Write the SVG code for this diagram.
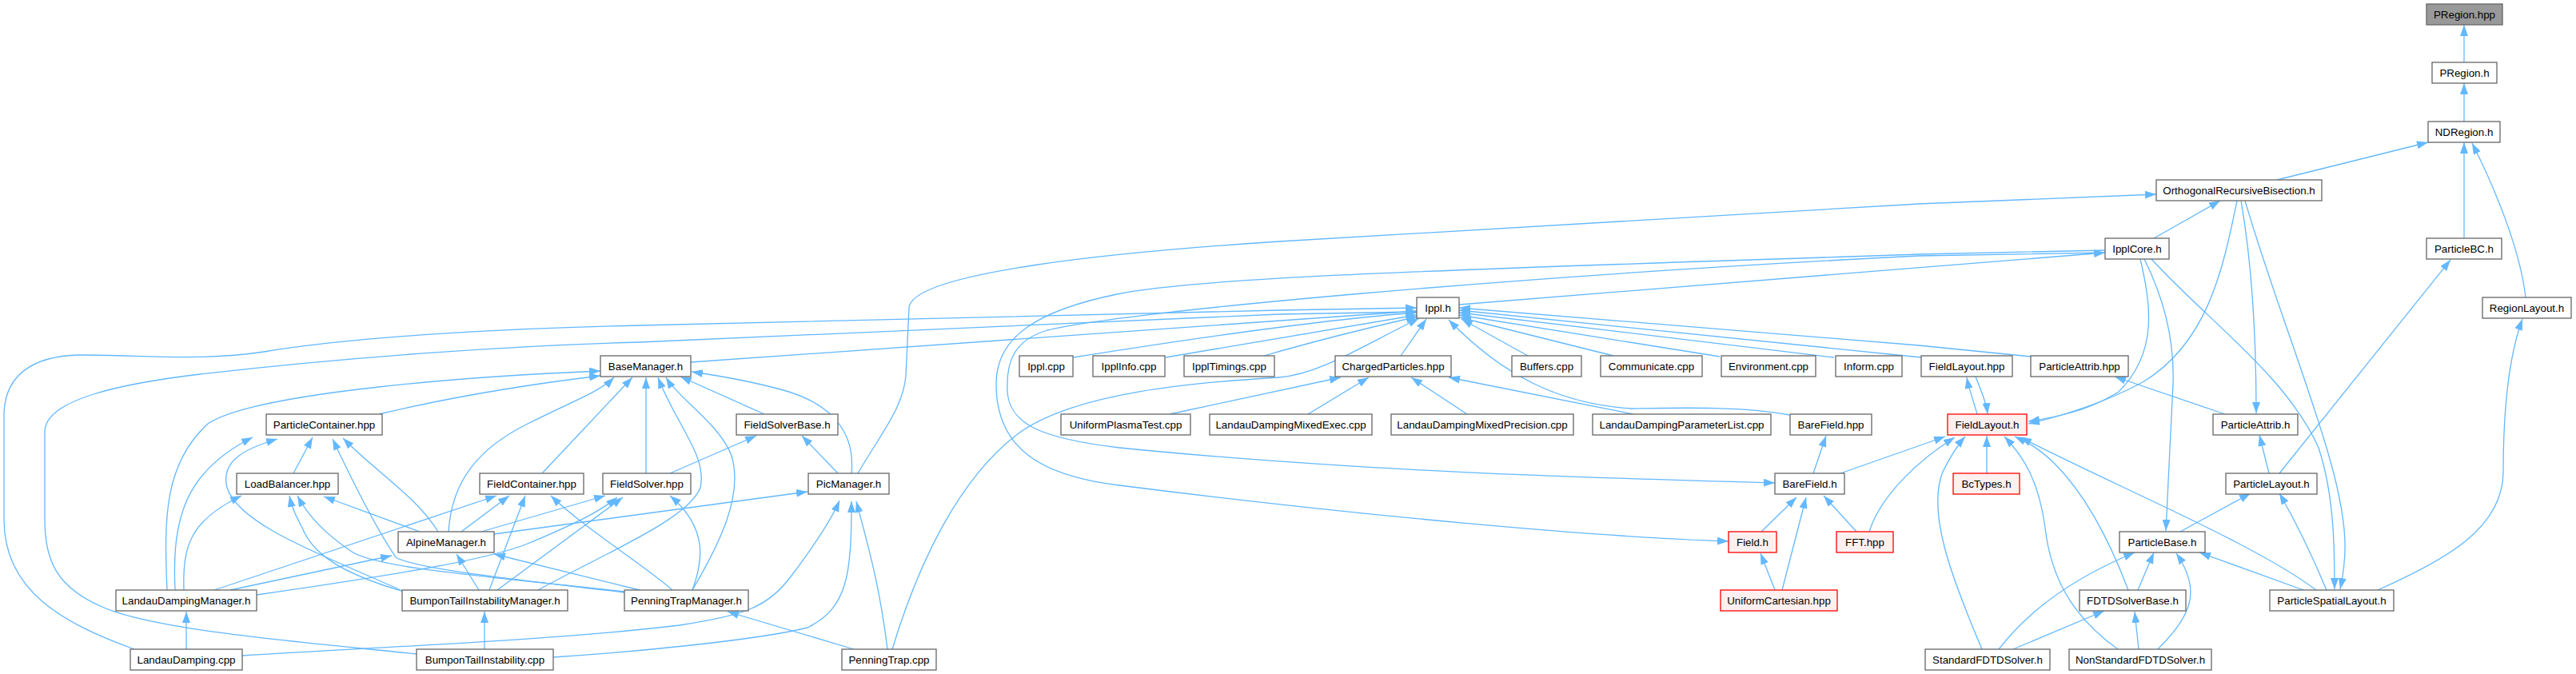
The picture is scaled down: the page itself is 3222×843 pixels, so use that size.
<svg xmlns="http://www.w3.org/2000/svg" width="3222" height="843" viewBox="0 0 3222 843">
<style>
.n rect{fill:#ffffff;stroke:#666666;stroke-width:1.3}
.r rect{fill:#fff0f0;stroke:#ff0000;stroke-width:1.3}
.g rect{fill:#999999;stroke:#666666;stroke-width:1.3}
text{font-family:"Liberation Sans",Arial,Helvetica,sans-serif;font-size:13.33px;fill:#000000;text-anchor:middle}
#edges path{fill:none;stroke:#63b8ff;stroke-width:1.3;marker-end:url(#ah)}
</style>
<defs>
<marker id="ah" viewBox="0 0 14 10" refX="14" refY="5" markerWidth="14" markerHeight="10" markerUnits="userSpaceOnUse" orient="auto"><path d="M0,0 L14,5 L0,10 z" fill="#63b8ff"/></marker>
</defs>
<rect x="0" y="0" width="3222" height="843" fill="#ffffff"/>
<g id="edges">
<path d="M3082,78 L3082,31"/>
<path d="M3082,152 L3082,104"/>
<path d="M2848,225 L3037,178"/>
<path d="M3082,298 L3082,178"/>
<path d="M3159,372 C3152,310 3118,230 3092,179"/>
<path d="M2694,298 L2777,251"/>
<path d="M1073,592 C1100,545 1130,510 1133,470 L1137,385 C1140,340 1400,315 1600,302 L2400,255 L2697,243"/>
<path d="M2851,592 L3065,325"/>
<path d="M2974,738 C3060,700 3131,660 3131,590 C3131,500 3140,440 3155,399"/>
<path d="M1825,381 L2633,316"/>
<path d="M2633,313 L2400,318 C1900,335 1500,345 1397,368 C1300,388 1246,420 1246,480 C1246,560 1300,595 1400,607 C1700,645 2000,672 2162,677"/>
<path d="M2633,316 L2400,320 C1900,345 1400,390 1310,413 C1270,425 1258,450 1260,490 C1263,530 1300,548 1400,560 C1700,590 2000,598 2220,604"/>
<path d="M864,453 L1772,389"/>
<path d="M168,812 C80,780 5,740 5,650 L5,520 C5,470 40,445 100,444 C180,444 250,452 330,440 C450,420 650,410 800,407 L1600,388 L1772,385"/>
<path d="M521,818 C400,805 200,790 130,760 C70,735 56,700 56,650 L56,540 C56,500 150,480 250,468 C450,445 650,432 800,428 L1600,393 L1772,390"/>
<path d="M1343,447 C1450,430 1650,400 1772,391"/>
<path d="M1458,447 L1772,394"/>
<path d="M1581,445 C1650,425 1720,408 1773,396"/>
<path d="M1116,812 C1150,700 1200,600 1270,545 C1340,490 1500,478 1600,472 C1650,468 1700,435 1775,398"/>
<path d="M1752,445 L1784,399"/>
<path d="M1911,445 L1828,399"/>
<path d="M2018,445 L1826,397"/>
<path d="M2151,446 L1825,394"/>
<path d="M2294,447 L1825,391"/>
<path d="M2403,447 L1825,388"/>
<path d="M2540,446 L2400,432 L1825,385"/>
<path d="M2238,519 C2180,508 2100,510 2040,511 C1950,505 1880,470 1812,400"/>
<path d="M2043,518 L1812,472"/>
<path d="M1835,518 L1765,472"/>
<path d="M1636,518 L1712,472"/>
<path d="M1463,518 L1677,472"/>
<path d="M209,738 C205,650 205,580 260,530 C320,490 600,470 751,464"/>
<path d="M474,518 C550,500 650,482 751,470"/>
<path d="M561,665 C565,600 600,560 660,530 C720,500 750,490 768,472"/>
<path d="M678,592 L791,472"/>
<path d="M808,592 L808,472"/>
<path d="M673,738 C760,690 860,650 876,610 C885,570 845,530 823,472"/>
<path d="M866,738 C900,680 930,620 915,570 C900,530 850,500 833,472"/>
<path d="M956,518 L851,471"/>
<path d="M1065,592 C1070,540 1040,505 980,488 C940,477 900,470 865,465"/>
<path d="M219,738 C215,650 230,590 316,547"/>
<path d="M505,740 C420,700 300,660 284,610 C275,575 310,560 347,549"/>
<path d="M367,592 L391,547"/>
<path d="M781,741 C650,725 520,712 495,697 C470,660 440,600 416,549"/>
<path d="M548,665 C520,620 470,590 429,548"/>
<path d="M230,738 C228,680 240,650 302,620"/>
<path d="M505,740 C420,715 390,690 378,660 C370,645 365,635 362,620"/>
<path d="M781,740 C600,720 470,710 440,690 C410,670 385,645 372,620"/>
<path d="M525,665 L405,621"/>
<path d="M268,738 L621,620"/>
<path d="M577,665 L637,620"/>
<path d="M612,738 L657,620"/>
<path d="M841,738 C810,710 730,660 689,620"/>
<path d="M602,665 L757,620"/>
<path d="M321,744 C500,718 610,700 660,680 C720,655 750,640 772,622"/>
<path d="M622,738 L779,622"/>
<path d="M866,738 C880,700 885,660 838,620"/>
<path d="M838,592 L946,545"/>
<path d="M1048,592 L1003,545"/>
<path d="M618,668 L1010,615"/>
<path d="M303,820 C500,808 700,800 850,782 C930,770 960,760 990,720 C1020,680 1040,650 1050,626"/>
<path d="M692,822 C800,815 950,800 1010,785 C1060,760 1065,720 1065,627"/>
<path d="M1110,812 C1100,730 1085,680 1071,627"/>
<path d="M288,738 L490,695"/>
<path d="M599,738 L571,693"/>
<path d="M800,738 L618,693"/>
<path d="M233,812 L233,765"/>
<path d="M606,812 L606,765"/>
<path d="M1068,812 L910,765"/>
<path d="M2268,592 L2284,545"/>
<path d="M2302,592 L2433,546"/>
<path d="M2203,665 L2247,622"/>
<path d="M2229,738 L2259,622"/>
<path d="M2322,665 L2281,620"/>
<path d="M2220,738 L2202,692"/>
<path d="M2338,665 C2352,620 2400,575 2445,547"/>
<path d="M2473,518 C2468,500 2463,488 2460,472"/>
<path d="M2471,471 C2478,490 2484,500 2486,518"/>
<path d="M2798,251 C2780,340 2760,430 2680,478 C2630,505 2580,520 2537,530"/>
<path d="M2677,324 C2690,380 2700,440 2650,490 C2610,515 2570,522 2537,527"/>
<path d="M2485,592 L2485,545"/>
<path d="M2479,812 C2440,720 2410,640 2430,590 C2440,570 2450,555 2458,546"/>
<path d="M2649,812 C2590,770 2565,720 2558,660 C2550,600 2530,570 2507,546"/>
<path d="M2662,738 C2640,680 2610,620 2570,580 C2550,560 2535,553 2520,546"/>
<path d="M2897,738 C2820,680 2650,610 2527,547"/>
<path d="M2803,251 C2815,320 2822,400 2822,517"/>
<path d="M2783,518 L2645,471"/>
<path d="M2838,592 L2826,544"/>
<path d="M2727,665 L2815,617"/>
<path d="M2910,738 C2890,690 2870,650 2851,617"/>
<path d="M2881,738 L2751,691"/>
<path d="M2674,738 L2694,691"/>
<path d="M2500,812 C2540,760 2600,720 2670,691"/>
<path d="M2699,812 C2740,770 2755,740 2722,692"/>
<path d="M2518,812 L2632,764"/>
<path d="M2675,812 L2670,765"/>
<path d="M2682,324 C2705,370 2720,420 2718,480 L2709,664"/>
<path d="M2691,324 C2760,400 2860,470 2900,560 C2920,620 2920,690 2920,737"/>
<path d="M2808,251 C2840,360 2880,460 2910,560 C2940,660 2935,700 2927,737"/>
</g>
<g id="PRegion_hpp" class="g"><rect x="3035" y="5" width="95" height="26"/><text x="3082.5" y="23">PRegion.hpp</text></g>
<g id="PRegion_h" class="n"><rect x="3042" y="78" width="81" height="26"/><text x="3082.5" y="96">PRegion.h</text></g>
<g id="NDRegion_h" class="n"><rect x="3037" y="152" width="90" height="26"/><text x="3082" y="170">NDRegion.h</text></g>
<g id="ORB_h" class="n"><rect x="2697" y="225" width="207" height="26"/><text x="2800.5" y="243">OrthogonalRecursiveBisection.h</text></g>
<g id="IpplCore_h" class="n"><rect x="2633" y="298" width="80" height="26"/><text x="2673" y="316">IpplCore.h</text></g>
<g id="ParticleBC_h" class="n"><rect x="3035" y="298" width="94" height="26"/><text x="3082" y="316">ParticleBC.h</text></g>
<g id="Ippl_h" class="n"><rect x="1772" y="372" width="53" height="26"/><text x="1798.5" y="390">Ippl.h</text></g>
<g id="RegionLayout_h" class="n"><rect x="3105" y="372" width="111" height="26"/><text x="3160.5" y="390">RegionLayout.h</text></g>
<g id="BaseManager_h" class="n"><rect x="751" y="445" width="113" height="26"/><text x="807.5" y="463">BaseManager.h</text></g>
<g id="Ippl_cpp" class="n"><rect x="1275" y="445" width="67" height="26"/><text x="1308.5" y="463">Ippl.cpp</text></g>
<g id="IpplInfo_cpp" class="n"><rect x="1367" y="445" width="90" height="26"/><text x="1412" y="463">IpplInfo.cpp</text></g>
<g id="IpplTimings_cpp" class="n"><rect x="1481" y="445" width="113" height="26"/><text x="1537.5" y="463">IpplTimings.cpp</text></g>
<g id="ChargedParticles_hpp" class="n"><rect x="1670" y="445" width="145" height="26"/><text x="1742.5" y="463">ChargedParticles.hpp</text></g>
<g id="Buffers_cpp" class="n"><rect x="1891" y="445" width="87" height="26"/><text x="1934.5" y="463">Buffers.cpp</text></g>
<g id="Communicate_cpp" class="n"><rect x="2002" y="445" width="127" height="26"/><text x="2065.5" y="463">Communicate.cpp</text></g>
<g id="Environment_cpp" class="n"><rect x="2153" y="445" width="118" height="26"/><text x="2212" y="463">Environment.cpp</text></g>
<g id="Inform_cpp" class="n"><rect x="2296" y="445" width="83" height="26"/><text x="2337.5" y="463">Inform.cpp</text></g>
<g id="FieldLayout_hpp" class="n"><rect x="2403" y="445" width="114" height="26"/><text x="2460" y="463">FieldLayout.hpp</text></g>
<g id="ParticleAttrib_hpp" class="n"><rect x="2540" y="445" width="122" height="26"/><text x="2601" y="463">ParticleAttrib.hpp</text></g>
<g id="ParticleContainer_hpp" class="n"><rect x="333" y="518" width="145" height="26"/><text x="405.5" y="536">ParticleContainer.hpp</text></g>
<g id="FieldSolverBase_h" class="n"><rect x="921" y="518" width="127" height="26"/><text x="984.5" y="536">FieldSolverBase.h</text></g>
<g id="UniformPlasmaTest_cpp" class="n"><rect x="1327" y="518" width="162" height="26"/><text x="1408" y="536">UniformPlasmaTest.cpp</text></g>
<g id="LDMixedExec_cpp" class="n"><rect x="1513" y="518" width="203" height="26"/><text x="1614.5" y="536">LandauDampingMixedExec.cpp</text></g>
<g id="LDMixedPrecision_cpp" class="n"><rect x="1740" y="518" width="228" height="26"/><text x="1854" y="536">LandauDampingMixedPrecision.cpp</text></g>
<g id="LDParameterList_cpp" class="n"><rect x="1992" y="518" width="223" height="26"/><text x="2103.5" y="536">LandauDampingParameterList.cpp</text></g>
<g id="BareField_hpp" class="n"><rect x="2239" y="518" width="102" height="26"/><text x="2290" y="536">BareField.hpp</text></g>
<g id="FieldLayout_h" class="r"><rect x="2436" y="518" width="99" height="26"/><text x="2485.5" y="536">FieldLayout.h</text></g>
<g id="ParticleAttrib_h" class="n"><rect x="2768" y="518" width="106" height="26"/><text x="2821" y="536">ParticleAttrib.h</text></g>
<g id="LoadBalancer_hpp" class="n"><rect x="296" y="592" width="127" height="26"/><text x="359.5" y="610">LoadBalancer.hpp</text></g>
<g id="FieldContainer_hpp" class="n"><rect x="600" y="592" width="130" height="26"/><text x="665" y="610">FieldContainer.hpp</text></g>
<g id="FieldSolver_hpp" class="n"><rect x="754" y="592" width="110" height="26"/><text x="809" y="610">FieldSolver.hpp</text></g>
<g id="PicManager_h" class="n"><rect x="1011" y="592" width="101" height="26"/><text x="1061.5" y="610">PicManager.h</text></g>
<g id="BareField_h" class="n"><rect x="2220" y="592" width="87" height="26"/><text x="2263.5" y="610">BareField.h</text></g>
<g id="BcTypes_h" class="r"><rect x="2443" y="592" width="83" height="26"/><text x="2484.5" y="610">BcTypes.h</text></g>
<g id="ParticleLayout_h" class="n"><rect x="2784" y="592" width="114" height="26"/><text x="2841" y="610">ParticleLayout.h</text></g>
<g id="AlpineManager_h" class="n"><rect x="498" y="665" width="120" height="26"/><text x="558" y="683">AlpineManager.h</text></g>
<g id="Field_h" class="r"><rect x="2162" y="665" width="60" height="26"/><text x="2192" y="683">Field.h</text></g>
<g id="FFT_hpp" class="r"><rect x="2297" y="665" width="71" height="26"/><text x="2332.5" y="683">FFT.hpp</text></g>
<g id="ParticleBase_h" class="n"><rect x="2651" y="665" width="107" height="26"/><text x="2704.5" y="683">ParticleBase.h</text></g>
<g id="LandauDampingManager_h" class="n"><rect x="145" y="738" width="176" height="26"/><text x="233" y="756">LandauDampingManager.h</text></g>
<g id="BumponTailInstabilityManager_h" class="n"><rect x="503" y="738" width="207" height="26"/><text x="606.5" y="756">BumponTailInstabilityManager.h</text></g>
<g id="PenningTrapManager_h" class="n"><rect x="781" y="738" width="155" height="26"/><text x="858.5" y="756">PenningTrapManager.h</text></g>
<g id="UniformCartesian_hpp" class="r"><rect x="2152" y="738" width="146" height="26"/><text x="2225" y="756">UniformCartesian.hpp</text></g>
<g id="FDTDSolverBase_h" class="n"><rect x="2601" y="738" width="133" height="26"/><text x="2667.5" y="756">FDTDSolverBase.h</text></g>
<g id="ParticleSpatialLayout_h" class="n"><rect x="2839" y="738" width="155" height="26"/><text x="2916.5" y="756">ParticleSpatialLayout.h</text></g>
<g id="LandauDamping_cpp" class="n"><rect x="163" y="812" width="140" height="26"/><text x="233" y="830">LandauDamping.cpp</text></g>
<g id="BumponTailInstability_cpp" class="n"><rect x="521" y="812" width="171" height="26"/><text x="606.5" y="830">BumponTailInstability.cpp</text></g>
<g id="PenningTrap_cpp" class="n"><rect x="1053" y="812" width="118" height="26"/><text x="1112" y="830">PenningTrap.cpp</text></g>
<g id="StandardFDTDSolver_h" class="n"><rect x="2408" y="812" width="156" height="26"/><text x="2486" y="830">StandardFDTDSolver.h</text></g>
<g id="NonStandardFDTDSolver_h" class="n"><rect x="2588" y="812" width="178" height="26"/><text x="2677" y="830">NonStandardFDTDSolver.h</text></g>
</svg>
